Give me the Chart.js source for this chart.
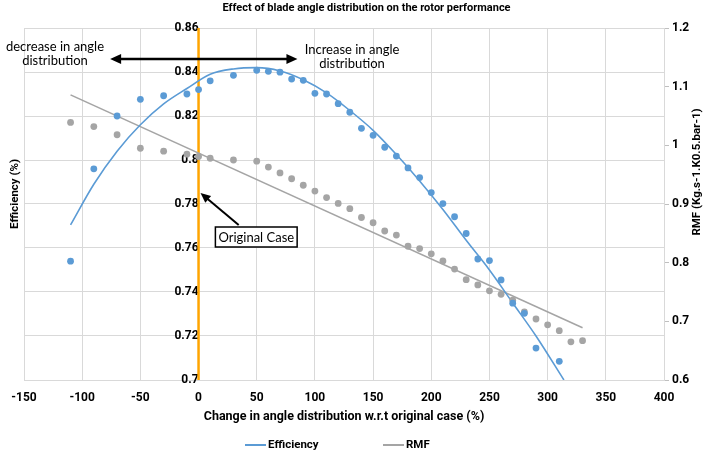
<!DOCTYPE html>
<html>
<head>
<meta charset="utf-8">
<script src="https://cdn.jsdelivr.net/npm/chart.js@4.4.0/dist/chart.umd.min.js"></script>
<style>
  html, body { margin: 0; padding: 0; background: #fff; }
  #wrap { width: 709px; height: 457px; }
</style>
</head>
<body>
<div id="wrap"><canvas id="chart"></canvas></div>
<script>
// Measured points (change in angle distribution, %)
const effX = [-110, -90, -70, -50, -30, -10, 0, 10, 30, 50, 60, 70, 80, 90, 100, 110, 120, 130, 140, 150,
  160, 170, 180, 190, 200, 210, 220, 230, 240, 250, 260, 270, 280, 290, 310];
const efficiency = [0.754, 0.796, 0.820, 0.8276, 0.8292, 0.830, 0.832, 0.836, 0.8385, 0.8408, 0.8403, 0.8399,
  0.8368, 0.8362, 0.8303, 0.830, 0.8256, 0.8217, 0.8144, 0.8112, 0.8058, 0.8018, 0.7964, 0.792, 0.7852,
  0.7802, 0.7742, 0.7666, 0.755, 0.7543, 0.7455, 0.7349, 0.7303, 0.7145, 0.7085];

const rmfX = [-110, -90, -70, -50, -30, -10, 0, 10, 30, 50, 60, 70, 80, 90, 100, 110, 120, 130, 140, 150,
  160, 170, 180, 190, 200, 210, 220, 230, 240, 250, 260, 270, 280, 290, 300, 310, 320, 330];
const rmf = [1.039, 1.032, 1.018, 0.995, 0.990, 0.985, 0.981, 0.978, 0.975, 0.973, 0.963, 0.953, 0.943, 0.932,
  0.922, 0.911, 0.901, 0.892, 0.877, 0.868, 0.854, 0.847, 0.828, 0.824, 0.815, 0.803, 0.789, 0.771, 0.762,
  0.752, 0.746, 0.736, 0.716, 0.704, 0.694, 0.684, 0.665, 0.667];

// Trend lines
const effTrendX = [-110, -90, -70, -50, -30, -10, 10, 30, 50, 70, 90, 110, 130, 150, 170, 190, 210, 230, 250, 270, 290, 314];
const effTrend = [0.7705, 0.789, 0.804, 0.816, 0.8255, 0.8325, 0.839, 0.8414, 0.842, 0.8405, 0.8365, 0.8305,
  0.8225, 0.8135, 0.8025, 0.7905, 0.7775, 0.7635, 0.750, 0.735, 0.720, 0.700];
const rmfTrendX = [-110, 330];
const rmfTrend = [1.086, 0.689];

const originalCaseX = 0;

const FONT = "Lato, sans-serif";
const BOLD = "Roboto, 'Liberation Sans', sans-serif";
const BLUE = '#5B9BD5';
const GREY = '#A5A5A5';
const GRID = '#d9d9d9';

const toXY = (xs, ys) => xs.map((x, i) => ({ x: x, y: ys[i] }));
const trimNum = (v, d) => String(+v.toFixed(d));

function arrowHead(ctx, x1, y1, x2, y2, len, half) {
  const a = Math.atan2(y2 - y1, x2 - x1);
  ctx.beginPath();
  ctx.moveTo(x2, y2);
  ctx.lineTo(x2 - len * Math.cos(a) + half * Math.sin(a), y2 - len * Math.sin(a) - half * Math.cos(a));
  ctx.lineTo(x2 - len * Math.cos(a) - half * Math.sin(a), y2 - len * Math.sin(a) + half * Math.cos(a));
  ctx.closePath();
  ctx.fill();
}

const extras = {
  id: 'extras',
  afterDraw(chart) {
    const ctx = chart.ctx;
    const x = chart.scales.x;
    const y = chart.scales.y;
    ctx.save();
    ctx.fillStyle = '#000';
    ctx.strokeStyle = '#000';
    ctx.textBaseline = 'middle';
    ctx.textAlign = 'center';

    // axis titles
    ctx.font = 'bold 11.5px ' + BOLD;
    ctx.save();
    ctx.translate(15, 194);
    ctx.rotate(-Math.PI / 2);
    ctx.fillText('Efficiency (%)', 0, 0);
    ctx.restore();
    ctx.save();
    ctx.translate(697, 172);
    ctx.rotate(-Math.PI / 2);
    ctx.fillText('RMF (Kg.s-1.K0.5.bar-1)', 0, 0);
    ctx.restore();
    ctx.font = 'bold 12.5px ' + BOLD;
    ctx.fillText('Change in angle distribution w.r.t original case (%)', (x.left + x.right) / 2, 417);

    // legend
    ctx.font = 'bold 11.5px ' + BOLD;
    ctx.textAlign = 'left';
    ctx.lineWidth = 2;
    [[245, BLUE, 'Efficiency'], [383, GREY, 'RMF']].forEach(([lx, c, t]) => {
      ctx.strokeStyle = c;
      ctx.beginPath();
      ctx.moveTo(lx, 445);
      ctx.lineTo(lx + 21, 445);
      ctx.stroke();
      ctx.fillText(t, lx + 23, 445);
    });

    // direction annotations
    ctx.strokeStyle = '#000';
    ctx.font = '13px ' + FONT;
    ctx.textAlign = 'center';
    ctx.fillText('decrease in angle', 55, 47);
    ctx.fillText('distribution', 55, 61);
    ctx.fillText('Increase in angle', 352, 50);
    ctx.fillText('distribution', 352, 64);

    const ay = y.getPixelForValue(0.8459);
    const ax1 = x.getPixelForValue(-76);
    const ax2 = x.getPixelForValue(85);
    ctx.lineWidth = 2.6;
    ctx.beginPath();
    ctx.moveTo(ax1 + 8, ay);
    ctx.lineTo(ax2 - 8, ay);
    ctx.stroke();
    arrowHead(ctx, ax2, ay, ax1, ay, 11, 5);
    arrowHead(ctx, ax1, ay, ax2, ay, 11, 5);

    // Original Case callout
    const tipX = x.getPixelForValue(1.7), tipY = y.getPixelForValue(0.785);
    const tailX = x.getPixelForValue(34.5), tailY = y.getPixelForValue(0.7705);
    ctx.lineWidth = 2;
    ctx.beginPath();
    const ang = Math.atan2(tipY - tailY, tipX - tailX);
    ctx.moveTo(tailX, tailY);
    ctx.lineTo(tipX - 7 * Math.cos(ang), tipY - 7 * Math.sin(ang));
    ctx.stroke();
    arrowHead(ctx, tailX, tailY, tipX, tipY, 10, 4.5);

    const bx = x.getPixelForValue(49.6), by = y.getPixelForValue(0.765);
    ctx.font = '13px ' + FONT;
    const w = ctx.measureText('Original Case').width + 6;
    ctx.fillStyle = '#fff';
    ctx.fillRect(bx - w / 2, by - 10, w, 20);
    ctx.lineWidth = 1.5;
    ctx.strokeRect(bx - w / 2, by - 10, w, 20);
    ctx.fillStyle = '#000';
    ctx.fillText('Original Case', bx, by + 1);
    ctx.restore();
  }
};

const tickFont = { family: BOLD, size: 12, weight: 'bold' };

new Chart(document.getElementById('chart'), {
  type: 'scatter',
  plugins: [extras],
  data: {
    datasets: [
      {
        label: 'Original case',
        data: [{ x: originalCaseX, y: 0.7 }, { x: originalCaseX, y: 0.86 }],
        showLine: true,
        borderColor: '#FFA500',
        borderWidth: 2.5,
        pointRadius: 0,
        yAxisID: 'y',
        order: 5,
      },
      {
        label: 'Efficiency',
        data: toXY(effTrendX, effTrend),
        showLine: true,
        borderColor: BLUE,
        borderWidth: 1.6,
        pointRadius: 0,
        cubicInterpolationMode: 'monotone',
        yAxisID: 'y',
        order: 3,
      },
      {
        label: 'RMF',
        data: toXY(rmfTrendX, rmfTrend),
        showLine: true,
        borderColor: GREY,
        borderWidth: 1.6,
        pointRadius: 0,
        yAxisID: 'y2',
        order: 3,
      },
      {
        label: 'Efficiency points',
        data: toXY(effX, efficiency),
        backgroundColor: BLUE,
        borderWidth: 0,
        pointRadius: 3.4,
        yAxisID: 'y',
        order: 1,
      },
      {
        label: 'RMF points',
        data: toXY(rmfX, rmf),
        backgroundColor: GREY,
        borderWidth: 0,
        pointRadius: 3.4,
        yAxisID: 'y2',
        order: 1,
      },
    ],
  },
  options: {
    responsive: true,
    maintainAspectRatio: false,
    animation: false,
    layout: { padding: { left: 24, right: 0, top: 0, bottom: 0 } },
    plugins: {
      legend: { display: false },
      tooltip: { enabled: false },
      title: {
        display: true,
        text: 'Effect of blade angle distribution on the rotor performance',
        color: '#000',
        font: { family: BOLD, size: 11, weight: 'bold' },
        padding: { top: 2, bottom: 12.8 },
      },
    },
    scales: {
      x: {
        type: 'linear',
        position: 'bottom',
        min: -150,
        max: 400,
        afterFit: (s) => { s.height = 77; },
        ticks: { stepSize: 50, color: '#000', font: tickFont, padding: 11 },
        grid: { color: GRID, drawTicks: false },
        border: { color: GRID },
      },
      y: {
        type: 'linear',
        position: { x: 0 },
        min: 0.7,
        max: 0.86,
        ticks: {
          stepSize: 0.02,
          color: '#000',
          font: tickFont,
          padding: 3,
          callback: (v) => trimNum(v, 2),
        },
        grid: { color: GRID, tickLength: 8 },
        border: { display: false },
      },
      y2: {
        type: 'linear',
        position: 'right',
        min: 0.6,
        max: 1.2,
        afterFit: (s) => { s.width = 45; },
        ticks: {
          stepSize: 0.1,
          color: '#000',
          font: tickFont,
          padding: 3,
          callback: (v) => trimNum(v, 1),
        },
        grid: { drawOnChartArea: false, color: '#bfbfbf', tickLength: 5 },
        border: { color: GRID },
      },
    },
  },
});
</script>
</body>
</html>
